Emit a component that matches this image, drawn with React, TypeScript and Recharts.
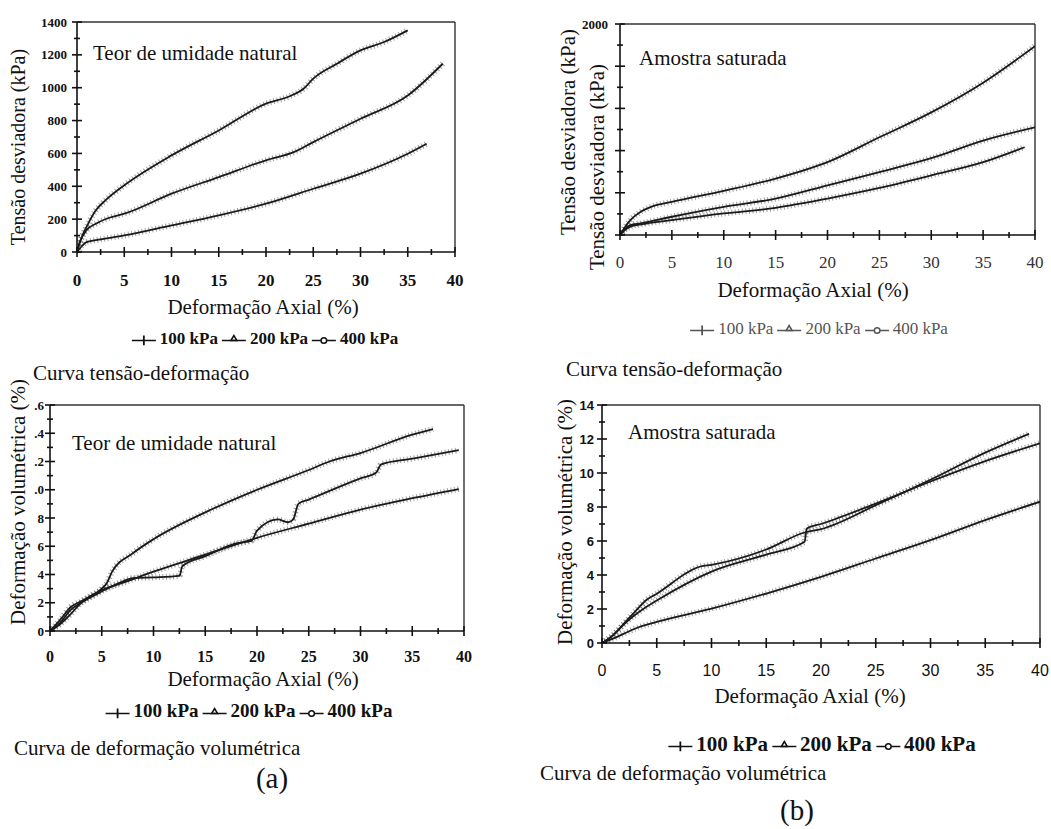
import React from "react";
import { Line, LineChart, ReferenceLine, XAxis, YAxis } from "recharts";

const SERIF = '"Liberation Serif", "Times New Roman", serif';
const SANS = '"Liberation Sans", Arial, sans-serif';

// (a) teor de umidade natural - curva tensão-deformação
const natStrain100 = [0, 0.5, 1, 2, 5, 10, 15, 20, 25, 30, 35, 37];
const natStress100 = [0, 35, 60, 72, 101, 162, 223, 294, 385, 477, 598, 659];
const natStrain200 = [0, 0.3, 1, 2, 3.5, 5, 10, 15, 20, 23, 25, 30, 35, 38.7];
const natStress200 = [0, 60, 132, 172, 210, 233, 355, 456, 558, 609, 669, 811, 953, 1146];
const natStrain400 = [0, 0.3, 0.5, 1, 2, 3, 5, 10, 15, 20, 22.5, 24, 25, 27.5, 30, 32.5, 35];
const natStress400 = [0, 60, 91, 152, 254, 314, 406, 588, 740, 903, 948, 995, 1055, 1146, 1227, 1278, 1349];

// (b) amostra saturada - curva tensão-deformação
const satStrain100 = [0, 0.5, 1, 2, 5, 10, 15, 20, 25, 30, 35, 39];
const satStress100 = [0, 50, 78, 100, 141, 204, 257, 345, 446, 565, 690, 832];
const satStrain200 = [0, 0.5, 1, 2, 5, 10, 15, 20, 25, 30, 35, 40];
const satStress200 = [0, 60, 94, 110, 173, 267, 345, 471, 597, 728, 895, 1020];
const satStrain400 = [0, 0.5, 1, 2, 3, 5, 10, 15, 20, 25, 30, 35, 40];
const satStress400 = [0, 78, 141, 220, 267, 314, 418, 534, 690, 926, 1162, 1444, 1790];

// (a) deformação volumétrica
const natVolStrain100 = [0, 1, 2, 3, 5, 5.5, 6, 8, 10, 15, 20, 25, 27, 30, 35, 37];
const natVol100 = [0, 0.5, 1.2, 2.0, 3.0, 3.4, 4.2, 5.5, 6.5, 8.4, 10.0, 11.4, 12.0, 12.6, 13.9, 14.3];
const natVolStrain200 = [0, 1, 2, 3, 5, 7, 8, 10, 12.5, 12.8, 15, 18, 19.5, 20, 22, 23, 23.5, 24, 25, 30, 31.5, 32, 35, 39.5];
const natVol200 = [0, 0.6, 1.5, 2.0, 2.8, 3.5, 3.75, 3.8, 3.9, 4.6, 5.3, 6.2, 6.4, 7.1, 7.9, 7.7, 7.9, 9.0, 9.3, 10.8, 11.2, 11.8, 12.2, 12.8];
const natVolStrain400 = [0, 1, 2, 3, 5, 7, 10, 15, 20, 25, 30, 35, 39.5];
const natVol400 = [0, 0.8, 1.7, 2.1, 2.9, 3.4, 4.2, 5.4, 6.6, 7.6, 8.6, 9.4, 10.05];

// (b) deformação volumétrica
const satVolStrain100 = [0, 1, 2, 3, 4, 5, 9, 10, 15, 18.5, 20, 25, 30, 35, 39];
const satVol100 = [0, 0.45, 1.14, 1.83, 2.5, 2.9, 4.5, 4.6, 5.5, 6.5, 6.7, 8.1, 9.6, 11.2, 12.3];
const satVolStrain200 = [0, 1, 2, 4, 5, 10, 15, 18.5, 18.7, 20, 25, 30, 35, 40];
const satVol200 = [0, 0.45, 1.1, 2.1, 2.5, 4.2, 5.2, 5.95, 6.74, 7.0, 8.2, 9.5, 10.7, 11.75];
const satVolStrain400 = [0, 1, 2, 3, 5, 10, 15, 20, 25, 30, 35, 40];
const satVol400 = [0, 0.26, 0.55, 0.84, 1.24, 2.02, 2.91, 3.89, 4.97, 6.05, 7.23, 8.31];

const strainTicks = [0, 2.5, 5, 7.5, 10, 12.5, 15, 17.5, 20, 22.5, 25, 27.5, 30, 32.5, 35, 37.5, 40];
const natStressTicks = [0, 100, 200, 300, 400, 500, 600, 700, 800, 900, 1000, 1100, 1200, 1300, 1400];
const satStressTicks = [0, 200, 400, 600, 800, 1000, 1200, 1400, 1600, 1800, 2000];
const natVolTicks = [0, 1, 2, 3, 4, 5, 6, 7, 8, 9, 10, 11, 12, 13, 14, 15, 16];
const satVolTicks = [0, 1, 2, 3, 4, 5, 6, 7, 8, 9, 10, 11, 12, 13, 14];

const legendLabels = ["100 kPa", "200 kPa", "400 kPa"];

type Pt = { x: number; y: number };
const zip = (xs: number[], ys: number[]): Pt[] => xs.map((x, i) => ({ x, y: ys[i] }));

type PanelProps = {
  plot: { x: number; y: number; w: number; h: number };
  series: Pt[][];
  yMax: number;
  yTicks: number[];
  yMajor: number;
  yLabel: (v: number) => string;
  yFont: React.CSSProperties;
  yGap: number;
  xFont: React.CSSProperties;
  xGap: number;
};

const PAD = 50;
const Y_W = 40;
const X_H = 30;

function Panel({ plot, series, yMax, yTicks, yMajor, yLabel, yFont, yGap, xFont, xGap }: PanelProps) {
  const xTick = (p: any) => {
    const v = p.payload.value as number;
    const major = v % 5 === 0;
    const len = major ? 5 : 3;
    return (
      <g>
        <line x1={p.x} x2={p.x} y1={p.y - len} y2={p.y + len} stroke="#111" strokeWidth={1.6} />
        {major && (
          <text x={p.x} y={p.y + xGap} textAnchor="middle" dominantBaseline="central" style={xFont}>
            {v}
          </text>
        )}
      </g>
    );
  };
  const yTick = (p: any) => {
    const v = p.payload.value as number;
    const major = v % yMajor === 0;
    const len = major ? 5 : 3;
    const label = major ? yLabel(v) : "";
    return (
      <g>
        <line x1={p.x - len} x2={p.x + len} y1={p.y} y2={p.y} stroke="#111" strokeWidth={1.6} />
        {label && (
          <text x={p.x - yGap} y={p.y} textAnchor="end" dominantBaseline="central" style={yFont}>
            {label}
          </text>
        )}
      </g>
    );
  };
  return (
    <div style={{ position: "absolute", left: plot.x - PAD, top: plot.y - PAD }}>
      <LineChart
        width={plot.w + PAD * 2}
        height={plot.h + PAD * 2}
        margin={{ left: PAD - Y_W, right: PAD, top: PAD, bottom: PAD - X_H }}
        style={{ overflow: "visible" }}
      >
        <XAxis
          dataKey="x"
          type="number"
          domain={[0, 40]}
          ticks={strainTicks}
          interval={0}
          height={X_H}
          tickSize={0}
          tickMargin={0}
          tickLine={false}
          tick={xTick}
          axisLine={{ stroke: "#111", strokeWidth: 1.6 }}
          allowDataOverflow
        />
        <YAxis
          dataKey="y"
          type="number"
          domain={[0, yMax]}
          ticks={yTicks}
          interval={0}
          width={Y_W}
          tickSize={0}
          tickMargin={0}
          tickLine={false}
          tick={yTick}
          axisLine={{ stroke: "#111", strokeWidth: 1.6 }}
          allowDataOverflow
        />
        <ReferenceLine y={yMax} stroke="#333" strokeWidth={1.4} />
        <ReferenceLine x={40} stroke="#333" strokeWidth={1.4} />
        {series.map((d, i) => (
          <Line
            key={`h${i}`}
            data={d}
            dataKey="y"
            type="monotone"
            stroke="#555"
            strokeOpacity={0.55}
            strokeWidth={6}
            strokeDasharray="1 2.5"
            dot={false}
            activeDot={false}
            isAnimationActive={false}
          />
        ))}
        {series.map((d, i) => (
          <Line
            key={`s${i}`}
            data={d}
            dataKey="y"
            type="monotone"
            stroke="#1a1a1a"
            strokeWidth={1.8}
            dot={false}
            activeDot={false}
            isAnimationActive={false}
          />
        ))}
      </LineChart>
    </div>
  );
}

type TxtProps = {
  x: number;
  y: number;
  size: number;
  children: React.ReactNode;
  left?: boolean;
  rotate?: boolean;
  style?: React.CSSProperties;
};

function Txt({ x, y, size, children, left, rotate, style }: TxtProps) {
  const tr = rotate ? "translate(-50%, -50%) rotate(-90deg)" : left ? "translateY(-50%)" : "translate(-50%, -50%)";
  return (
    <div
      style={{
        position: "absolute",
        left: x,
        top: y,
        transform: tr,
        whiteSpace: "nowrap",
        fontFamily: SERIF,
        fontSize: size,
        lineHeight: 1,
        color: "#111",
        ...style,
      }}
    >
      {children}
    </div>
  );
}

function Marker({ kind, color }: { kind: number; color: string }) {
  return (
    <svg width={26} height={12} style={{ verticalAlign: "middle", margin: "0 3px" }}>
      <line x1={1} x2={25} y1={7} y2={7} stroke={color} strokeWidth={1.5} />
      {kind === 0 && <line x1={13} x2={13} y1={2} y2={12} stroke={color} strokeWidth={1.8} />}
      {kind === 1 && <polygon points="10,7 16,7 13,2" fill="none" stroke={color} strokeWidth={1.5} />}
      {kind === 2 && <circle cx={13} cy={7} r={2.8} fill="#fff" stroke={color} strokeWidth={1.5} />}
    </svg>
  );
}

function Legend({ x, y, size, color, weight }: { x: number; y: number; size: number; color: string; weight: number }) {
  return (
    <Txt x={x} y={y} size={size} style={{ color, fontWeight: weight }}>
      {legendLabels.map((l, i) => (
        <span key={l}>
          <Marker kind={i} color={color} />
          {l}
        </span>
      ))}
    </Txt>
  );
}

const serifBold = (size: number): React.CSSProperties => ({ fontFamily: SERIF, fontSize: size, fontWeight: 700, fill: "#111" });
const sansBold = (size: number): React.CSSProperties => ({ fontFamily: SANS, fontSize: size, fontWeight: 700, fill: "#111" });

export default function App() {
  return (
    <div style={{ position: "absolute", left: 0, top: 0, width: 1051, height: 829, background: "#fff", overflow: "hidden" }}>
      {/* (a) tensão-deformação */}
      <Panel
        plot={{ x: 77, y: 22, w: 378, h: 230 }}
        series={[zip(natStrain100, natStress100), zip(natStrain200, natStress200), zip(natStrain400, natStress400)]}
        yMax={1400}
        yTicks={natStressTicks}
        yMajor={200}
        yLabel={(v) => String(v)}
        yFont={serifBold(13)}
        yGap={10}
        xFont={serifBold(17)}
        xGap={28}
      />
      <Txt x={93} y={53} size={21} left>Teor de umidade natural</Txt>
      <Txt x={18} y={147} size={20} rotate>Tensão desviadora (kPa)</Txt>
      <Txt x={263} y={307} size={21}>Deformação Axial (%)</Txt>
      <Legend x={263} y={338} size={17} color="#111" weight={700} />
      <Txt x={33} y={373} size={21} left>Curva tensão-deformação</Txt>

      {/* (b) tensão-deformação */}
      <Panel
        plot={{ x: 620, y: 24, w: 415, h: 211 }}
        series={[zip(satStrain100, satStress100), zip(satStrain200, satStress200), zip(satStrain400, satStress400)]}
        yMax={2000}
        yTicks={satStressTicks}
        yMajor={400}
        yLabel={(v) => (v === 2000 ? "2000" : "")}
        yFont={serifBold(13)}
        yGap={12}
        xFont={{ ...serifBold(17), fontWeight: 400, fill: "#333" }}
        xGap={27}
      />
      <Txt x={639} y={58} size={21} left>Amostra saturada</Txt>
      <Txt x={568} y={132} size={21} rotate>Tensão desviadora (kPa)</Txt>
      <Txt x={597} y={167} size={21} rotate>Tensão desviadora (kPa)</Txt>
      <Txt x={813} y={290} size={21}>Deformação Axial (%)</Txt>
      <Legend x={817} y={328} size={17} color="#555" weight={400} />
      <Txt x={566} y={369} size={21} left>Curva tensão-deformação</Txt>

      {/* (a) deformação volumétrica */}
      <Panel
        plot={{ x: 50, y: 405, w: 414, h: 226 }}
        series={[zip(natVolStrain100, natVol100), zip(natVolStrain200, natVol200), zip(natVolStrain400, natVol400)]}
        yMax={16}
        yTicks={natVolTicks}
        yMajor={2}
        yLabel={(v) => (v >= 10 ? "." + (v % 10) : String(v))}
        yFont={serifBold(13)}
        yGap={6}
        xFont={serifBold(16)}
        xGap={25}
      />
      <Txt x={72} y={443} size={21} left>Teor de umidade natural</Txt>
      <Txt x={18} y={502} size={21} rotate>Deformação volumétrica (%)</Txt>
      <Txt x={263} y={679} size={21}>Deformação Axial (%)</Txt>
      <Legend x={247} y={710} size={19} color="#111" weight={700} />
      <Txt x={14} y={748} size={21} left>Curva de deformação volumétrica</Txt>
      <Txt x={272} y={778} size={29}>(a)</Txt>

      {/* (b) deformação volumétrica */}
      <Panel
        plot={{ x: 602, y: 405, w: 438, h: 238 }}
        series={[zip(satVolStrain100, satVol100), zip(satVolStrain200, satVol200), zip(satVolStrain400, satVol400)]}
        yMax={14}
        yTicks={satVolTicks}
        yMajor={2}
        yLabel={(v) => String(v)}
        yFont={sansBold(13)}
        yGap={8}
        xFont={{ ...sansBold(16), fontWeight: 400 }}
        xGap={27}
      />
      <Txt x={628} y={432} size={21} left>Amostra saturada</Txt>
      <Txt x={565} y={522} size={21} rotate>Deformação volumétrica (%)</Txt>
      <Txt x={810} y={696} size={21}>Deformação Axial (%)</Txt>
      <Legend x={820} y={744} size={21} color="#111" weight={700} />
      <Txt x={540} y={773} size={21} left>Curva de deformação volumétrica</Txt>
      <Txt x={797} y={810} size={29}>(b)</Txt>
    </div>
  );
}
